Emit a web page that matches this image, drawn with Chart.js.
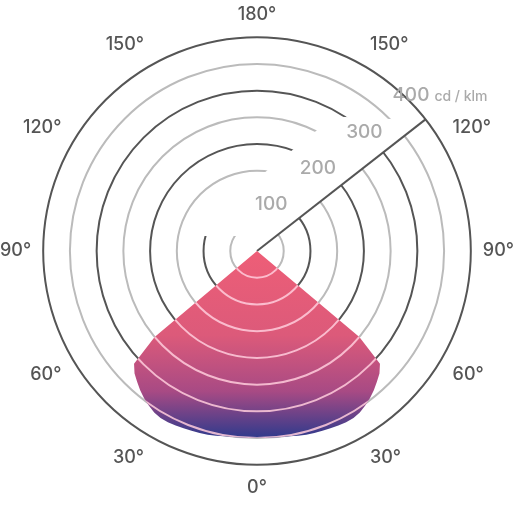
<!DOCTYPE html>
<html>
<head>
<meta charset="utf-8">
<script src="https://cdn.jsdelivr.net/npm/chart.js@4"></script>
<style>
  html, body { margin: 0; padding: 0; background: #fff; }
  #wrap { width: 515px; height: 508px; }
</style>
</head>
<body>
<div id="wrap"><canvas id="chartPolar"></canvas></div>
<script>
const _ = (id) => document.getElementById(id)

// angles every 2.5 deg, 0 = straight down
const halfAngles = []
for (let a = 0; a <= 180; a += 2.5) halfAngles.push(a)
// intensity (cd/klm) for 0..180 deg
const halfValues = [
  349, 350, 350, 351, 352, 354, 356, 357, 358, 359, 360, 361, 361,
  358, 353, 347, 340, 332, 324, 312, 250,
]
while (halfValues.length < halfAngles.length) halfValues.push(0)

const angles = halfAngles.concat(halfAngles.slice(1, -1).map((a) => 360 - a).reverse())
const values = halfValues.concat(halfValues.slice(1, -1).reverse())
const labels = angles.map((a) => `${a <= 180 ? a : 360 - a}°`)
const tickLabels = [100, 200, 300, 400]
const unit = 'cd / klm'

const CUT_DEG = 52
const BAND = 90

const cutPlugin = {
  id: 'cut',
  beforeDatasetsDraw(chart) {
    const s = chart.scales.r
    const ctx = chart.ctx
    const xc = s.xCenter, yc = s.yCenter
    const R = s.drawingArea
    const rad = CUT_DEG * Math.PI / 180
    const t = Math.tan(rad)
    const endX = xc + Math.sin(rad) * (R - 2)
    const endY = yc - Math.cos(rad) * (R - 2)
    const y0 = yc - 15
    const x0 = xc + 15 * t
    ctx.save()
    ctx.fillStyle = '#fff'
    ctx.beginPath()
    ctx.moveTo(x0, y0)
    ctx.lineTo(endX, endY)
    ctx.lineTo(endX - BAND, endY - 4)
    ctx.lineTo(x0 - BAND, y0)
    ctx.closePath()
    ctx.fill()
    ctx.strokeStyle = '#555'
    ctx.lineWidth = 2
    ctx.beginPath()
    ctx.moveTo(xc, yc)
    ctx.lineTo(xc + Math.sin(rad) * R, yc - Math.cos(rad) * R)
    ctx.stroke()
    ctx.fillStyle = '#aaa'
    ctx.textAlign = 'center'
    ctx.textBaseline = 'middle'
    tickLabels.forEach((v) => {
      const r = s.getDistanceFromCenterForValue(v)
      const y = yc - (r * 0.68 + 10)
      const x = xc + (yc - y) * t - 45
      ctx.font = '500 19px Inter, "Noto Sans", sans-serif'
      ctx.fillText(String(v), x, y)
      if (v === 400) {
        const w = ctx.measureText(String(v)).width
        ctx.font = '500 14px Inter, "Noto Sans", sans-serif'
        ctx.textAlign = 'left'
        ctx.fillText(unit, x + w / 2 + 5, y + 1)
        ctx.textAlign = 'center'
      }
    })
    ctx.restore()
  },
  afterDatasetsDraw(chart) {
    const s = chart.scales.r
    const ctx = chart.ctx
    const pts = chart.getDatasetMeta(0).data
    ctx.save()
    ctx.beginPath()
    pts.forEach((p, i) => (i ? ctx.lineTo(p.x, p.y) : ctx.moveTo(p.x, p.y)))
    ctx.closePath()
    ctx.clip()
    ctx.strokeStyle = 'rgba(255, 205, 220, 0.85)'
    ctx.lineWidth = 2
    for (let v = 50; v < 400; v += 50) {
      ctx.beginPath()
      ctx.arc(s.xCenter, s.yCenter, s.getDistanceFromCenterForValue(v), 0, Math.PI * 2)
      ctx.stroke()
    }
    ctx.restore()
  },
}

function fillGradient(c) {
  const chart = c.chart
  const s = chart.scales.r
  if (!chart.chartArea || !s) return '#e55f7a'
  const g = chart.ctx.createLinearGradient(0, s.yCenter, 0, s.yCenter + s.getDistanceFromCenterForValue(350))
  g.addColorStop(0, '#ee5e77')
  g.addColorStop(0.45, '#dc5a7a')
  g.addColorStop(0.75, '#a84a84')
  g.addColorStop(1, '#2f3a8c')
  return g
}

new Chart(_('chartPolar'), {
  type: 'radar',
  data: {
    labels: labels,
    datasets: [
      {
        data: values,
        fill: true,
        backgroundColor: fillGradient,
        borderWidth: 0,
        pointRadius: 0,
        tension: 0,
      },
    ],
  },
  options: {
    responsive: true,
    maintainAspectRatio: false,
    animation: false,
    layout: { padding: { top: 0, bottom: 4, left: 0, right: 0 } },
    plugins: { legend: { display: false }, tooltip: { enabled: false } },
    scales: {
      r: {
        startAngle: 180,
        min: 0,
        max: 400,
        ticks: { display: false, stepSize: 50 },
        angleLines: { display: false },
        grid: {
          circular: true,
          lineWidth: 2,
          color: (c) => (c.tick && c.tick.value % 100 === 0 ? '#555' : '#bbb'),
        },
        pointLabels: {
          padding: 12,
          color: '#555',
          font: { size: 18, family: 'Inter, "Noto Sans", sans-serif', weight: '500' },
          callback: (label, i) => (angles[i] % 30 === 0 ? label : ''),
        },
      },
    },
  },
  plugins: [cutPlugin],
})
</script>
</body>
</html>
